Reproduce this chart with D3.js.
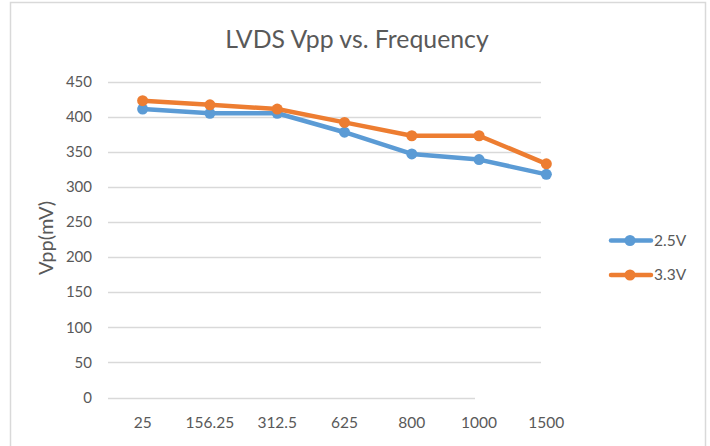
<!DOCTYPE html>
<html><head><meta charset="utf-8">
<script src="https://cdn.jsdelivr.net/npm/d3@7"></script>
<style>body{margin:0;background:#fff}svg{display:block}text{font-family:Lato,"Open Sans",sans-serif;fill:#595959}</style>
</head><body><svg width="710" height="446"></svg>
<script>
const categories = ["25","156.25","312.5","625","800","1000","1500"];
const series25 = [411,405,405,378,347,339,318];
const series33 = [423,417,411,392,373,373,333];
const yTicks = [0,50,100,150,200,250,300,350,400,450];
const seriesNames = ["2.5V","3.3V"];
const colors = ["#5B9BD5","#ED7D31"];

const svg = d3.select("svg");
// border
svg.append("path").attr("d","M10.5,446 V2.5 H705.5 V446").attr("fill","none").attr("stroke","#D9D9D9").attr("stroke-width",1.5);

const x = d3.scaleBand().domain(categories).range([109,580]);
const y = d3.scaleLinear().domain([0,450]).range([397.5,81.7]);

// gridlines
svg.append("g").selectAll("line").data(yTicks).join("line")
  .attr("x1",108).attr("x2",d=>d===0?475:541)
  .attr("y1",d=>Math.round(y(d))+0.5).attr("y2",d=>Math.round(y(d))+0.5)
  .attr("stroke","#D9D9D9").attr("stroke-width",1.5);

// y labels
svg.append("g").selectAll("text").data(yTicks).join("text")
  .attr("x",92).attr("y",d=>y(d)).attr("dy","0.35em").attr("text-anchor","end")
  .style("font-size","15px").text(d=>d);

// x labels
svg.append("g").selectAll("text").data(categories).join("text")
  .attr("x",d=>x(d)+x.bandwidth()/2).attr("y",423).attr("dy","0.35em").attr("text-anchor","middle")
  .style("font-size","15.5px").text(d=>d);

// title
svg.append("text").attr("x",357).attr("y",48).attr("text-anchor","middle").style("font-size","24.8px").text("LVDS Vpp vs. Frequency");

// y-axis title
svg.append("text").attr("transform","translate(53,238) rotate(-90)").attr("text-anchor","middle").style("font-size","20px").text("Vpp(mV)");

const line = d3.line().x((d,i)=>x(categories[i])+x.bandwidth()/2).y(d=>y(d));
[series25, series33].forEach((s,k)=>{
  const g = svg.append("g");
  g.append("path").datum(s).attr("d",line).attr("fill","none").attr("stroke",colors[k]).attr("stroke-width",4.5).attr("stroke-linejoin","round").attr("stroke-linecap","round");
  g.selectAll("circle").data(s).join("circle")
    .attr("cx",(d,i)=>x(categories[i])+x.bandwidth()/2).attr("cy",d=>y(d)).attr("r",5.5).attr("fill",colors[k]);
});

// legend
const legY = [240.5,275];
seriesNames.forEach((n,k)=>{
  const g = svg.append("g");
  g.append("line").attr("x1",611).attr("x2",651).attr("y1",legY[k]).attr("y2",legY[k]).attr("stroke",colors[k]).attr("stroke-width",4.5).attr("stroke-linecap","round");
  g.append("circle").attr("cx",630).attr("cy",legY[k]).attr("r",5.5).attr("fill",colors[k]);
  g.append("text").attr("x",654).attr("y",legY[k]).attr("dy","0.35em").style("font-size","15.5px").text(n);
});
</script></body></html>
